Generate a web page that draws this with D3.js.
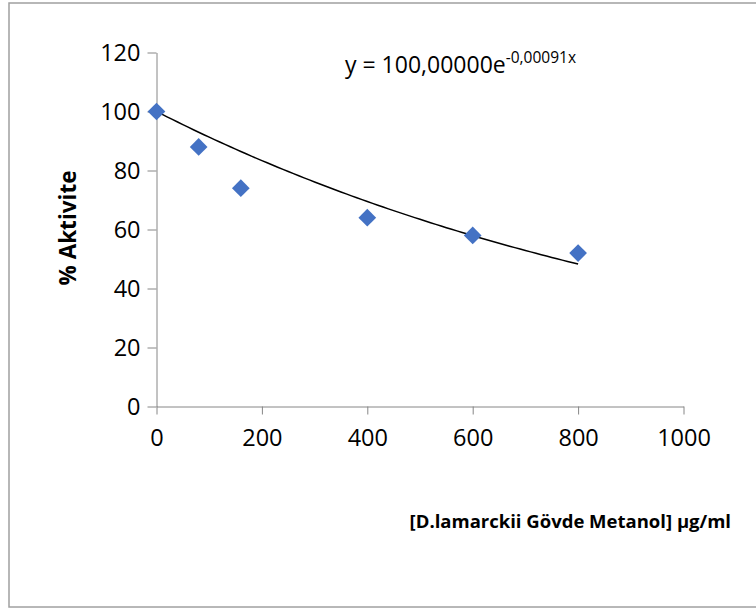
<!DOCTYPE html>
<html>
<head>
<meta charset="utf-8">
<script src="https://cdn.jsdelivr.net/npm/d3@7"></script>
<style>
  body { margin: 0; background: #fff; }
  svg { display: block; font-family: "Open Sans", "Liberation Sans", sans-serif; }
</style>
</head>
<body>
<script>
// veri
const concentrations = [0, 80, 160, 400, 600, 800];
const activity = [100, 88, 74, 64, 58, 52];
const xTicks = [0, 200, 400, 600, 800, 1000];
const yTicks = [0, 20, 40, 60, 80, 100, 120];
// trend denklemi y = A e^(k x)
const trendA = 100;
const trendK = -0.00091;
const trendLabel = "y = 100,00000e";
const trendExp = "-0,00091x";

const width = 756, height = 610;
const svg = d3.select("body").append("svg")
    .attr("width", width).attr("height", height);

// dis cerceve
svg.append("rect")
    .attr("x", 9).attr("y", 3)
    .attr("width", 760).attr("height", 604)
    .attr("fill", "none")
    .attr("stroke", "#a0a0a0")
    .attr("stroke-width", 1.5);

const x = d3.scaleLinear().domain([0, 1000]).range([156.5, 683.5]);
const y = d3.scaleLinear().domain([0, 120]).range([406.5, 52.5]);
const axisColor = "#868686";

// x ekseni
svg.append("g")
    .attr("transform", `translate(0,${y(0)})`)
    .call(d3.axisBottom(x).tickValues(xTicks).tickFormat(d3.format("d"))
        .tickSize(8).tickSizeOuter(0).tickPadding(15))
    .call(g => {
        g.select(".domain").attr("stroke", axisColor);
        g.selectAll("line").attr("stroke", axisColor);
        g.selectAll("text").attr("font-size", 23.5).attr("fill", "#000")
            .attr("font-family", "Open Sans");
    });

// y ekseni
svg.append("g")
    .attr("transform", `translate(${x(0)},0)`)
    .call(d3.axisLeft(y).tickValues(yTicks).tickSize(9).tickSizeOuter(0).tickPadding(7))
    .call(g => {
        g.select(".domain").attr("stroke", axisColor);
        g.selectAll("line").attr("stroke", axisColor);
        g.selectAll("text").attr("font-size", 23.5).attr("fill", "#000")
            .attr("font-family", "Open Sans");
    });

// trend cizgisi
const trendPts = d3.range(0, 801, 10).map(c => [c, trendA * Math.exp(trendK * c)]);
svg.append("path")
    .datum(trendPts)
    .attr("fill", "none")
    .attr("stroke", "#000")
    .attr("stroke-width", 1.5)
    .attr("d", d3.line().x(d => x(d[0])).y(d => y(d[1])));

// noktalar
const diamond = d3.symbol().type(d3.symbolDiamond2).size(200);
svg.selectAll(".pt")
    .data(concentrations)
    .enter().append("path")
    .attr("class", "pt")
    .attr("transform", (d, i) => `translate(${x(d)},${y(activity[i])})`)
    .attr("d", diamond)
    .attr("fill", "#4472c4");

// denklem
const eq = svg.append("text")
    .attr("x", 345).attr("y", 73)
    .attr("font-size", 23).attr("fill", "#000");
eq.append("tspan").text(trendLabel);
eq.append("tspan").attr("font-size", 15.5).attr("dy", -10).text(trendExp);

// eksen basliklari
svg.append("text")
    .attr("transform", "translate(76,228) rotate(-90)")
    .attr("text-anchor", "middle")
    .attr("font-size", 22.5).attr("font-weight", "bold")
    .text("% Aktivite");

svg.append("text")
    .attr("x", 731).attr("y", 528)
    .attr("text-anchor", "end")
    .attr("font-size", 18.5).attr("font-weight", "bold")
    .text("[D.lamarckii Gövde Metanol] µg/ml");
</script>
</body>
</html>
